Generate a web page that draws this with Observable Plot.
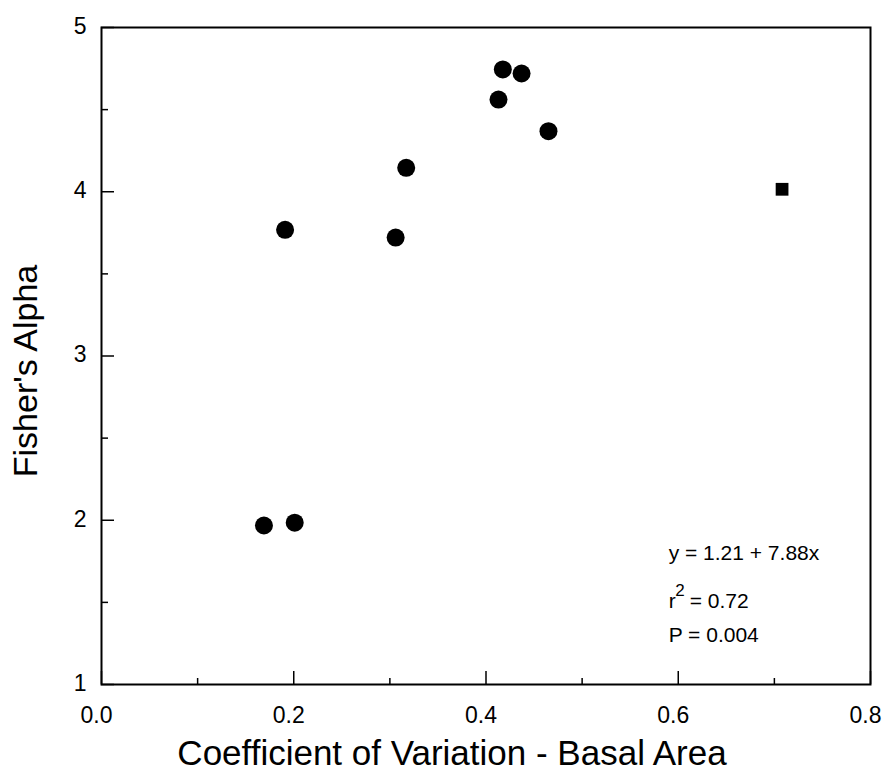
<!DOCTYPE html>
<html>
<head>
<meta charset="utf-8">
<script src="https://cdn.jsdelivr.net/npm/d3@7"></script>
<script src="https://cdn.jsdelivr.net/npm/@observablehq/plot@0.6"></script>
<style>
  html, body { margin: 0; padding: 0; background: #fff; }
  #chart svg { display: block; }
</style>
</head>
<body>
<div id="chart"></div>
<script>
// Data
const cvBasalArea   = [0.169, 0.201, 0.191, 0.306, 0.317, 0.413, 0.4175, 0.437, 0.465];
const fishersAlpha  = [1.968, 1.985, 3.768, 3.721, 4.146, 4.561, 4.745, 4.720, 4.369];
const outlierX = [0.708];
const outlierY = [4.015];

const xMajorTicks = [0.0, 0.2, 0.4, 0.6, 0.8];
const xMinorTicks = [0.1, 0.3, 0.5, 0.7];
const yMajorTicks = [1, 2, 3, 4, 5];
const yMinorTicks = [1.5, 2.5, 3.5, 4.5];

const xTitle = "Coefficient of Variation - Basal Area";
const yTitle = "Fisher's Alpha";

// Regression annotation
const annX = 0.59;
const annLines = ["y = 1.21 + 7.88x", "P = 0.004"];
const annLineY = [1.80, 1.30];
const r2Y = 1.508;
const r2Base = "r";
const r2Sup = "2";
const r2Rest = "= 0.72";

const points = cvBasalArea.map((x, i) => ({x, y: fishersAlpha[i]}));
const outlier = outlierX.map((x, i) => ({x, y: outlierY[i]}));
const ann = annLines.map((t, i) => ({t, y: annLineY[i]}));

const font = "'Liberation Sans', Arial, Helvetica, sans-serif";

const chart = Plot.plot({
  width: 884,
  height: 772,
  marginLeft: 101,
  marginRight: 14,
  marginTop: 27,
  marginBottom: 88,
  style: {fontFamily: font, color: "#000", background: "#fff"},
  x: {domain: [0, 0.8]},
  y: {domain: [1, 5]},
  marks: [
    // inward tick marks
    Plot.axisX({ticks: xMajorTicks, tickSize: -13, tickFormat: () => "", label: null, strokeWidth: 1.5}),
    Plot.axisX({ticks: xMinorTicks, tickSize: -6, tickFormat: () => "", label: null, strokeWidth: 1.5}),
    Plot.axisY({ticks: yMajorTicks, tickSize: -13, tickFormat: () => "", label: null, strokeWidth: 1.5}),
    Plot.axisY({ticks: yMinorTicks, tickSize: -7, tickFormat: () => "", label: null, strokeWidth: 1.5}),
    // tick labels
    Plot.axisX({ticks: xMajorTicks, tickSize: 0, tickPadding: 22, tickFormat: d3.format(".1f"), label: null, fontSize: 23, dx: -5}),
    Plot.axisY({ticks: yMajorTicks, tickSize: 0, tickPadding: 15, tickFormat: d3.format("d"), label: null, fontSize: 23, dy: -1}),
    Plot.frame({stroke: "#000", strokeWidth: 2}),
    // data
    Plot.dot(points, {x: "x", y: "y", r: 9, fill: "#000", stroke: "none"}),
    Plot.dot(outlier, {x: "x", y: "y", r: 7.2, symbol: "square", fill: "#000", stroke: "none"}),
    // annotation
    Plot.text(ann, {x: () => annX, y: "y", text: "t", textAnchor: "start", lineAnchor: "middle", fontSize: 21, fill: "#000"}),
    Plot.text([r2Base], {x: () => annX, y: () => r2Y, text: d => d, textAnchor: "start", lineAnchor: "middle", fontSize: 21, fill: "#000"}),
    Plot.text([r2Sup], {x: () => annX, y: () => r2Y, text: d => d, textAnchor: "start", lineAnchor: "middle", fontSize: 17, dx: 6.5, dy: -11, fill: "#000"}),
    Plot.text([r2Rest], {x: () => annX, y: () => r2Y, text: d => d, textAnchor: "start", lineAnchor: "middle", fontSize: 21, dx: 21, fill: "#000"}),
    // axis titles
    Plot.text([xTitle], {frameAnchor: "bottom", text: d => d, textAnchor: "middle", lineAnchor: "middle", fontSize: 35, dx: -34, dy: 69, fill: "#000"}),
    Plot.text([yTitle], {frameAnchor: "left", text: d => d, rotate: -90, textAnchor: "middle", lineAnchor: "middle", fontSize: 34, dx: -75, dy: 15, fill: "#000"})
  ]
});

document.getElementById("chart").appendChild(chart);
</script>
</body>
</html>
